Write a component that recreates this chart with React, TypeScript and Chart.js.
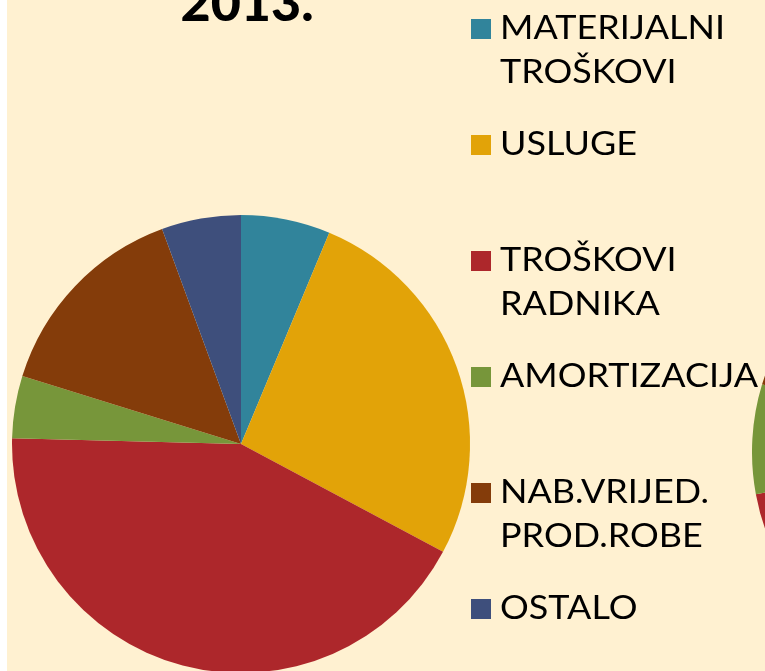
import React, { useEffect, useRef } from "react";
import { Chart, registerables } from "chart.js";

Chart.register(...registerables);

const TITLE = "2013.";
const categories = [
  "MATERIJALNI TROŠKOVI",
  "USLUGE",
  "TROŠKOVI RADNIKA",
  "AMORTIZACIJA",
  "NAB.VRIJED. PROD.ROBE",
  "OSTALO",
];
const legendLines = [
  ["MATERIJALNI", "TROŠKOVI"],
  ["USLUGE"],
  ["TROŠKOVI", "RADNIKA"],
  ["AMORTIZACIJA"],
  ["NAB.VRIJED.", "PROD.ROBE"],
  ["OSTALO"],
];
const values2013 = [6.3, 26.5, 42.6, 4.4, 14.6, 5.6];
const valuesNextYear = [6.0, 25.0, 41.1, 7.6, 14.0, 6.3];
const sliceColors = ["#31849B", "#E2A308", "#AD272B", "#77963A", "#843C0A", "#3E4F7C"];

const BG = "#FFF1D1";
const FONT = "Lato, 'Gill Sans', 'Open Sans', sans-serif";

const overlayPlugin = {
  id: "overlay",
  afterDraw(chart: any) {
    const ctx = chart.ctx;
    ctx.save();
    // title (cut at top)
    ctx.fillStyle = "#000";
    ctx.font = `900 52px ${FONT}`;
    ctx.textAlign = "center";
    ctx.textBaseline = "alphabetic";
    ctx.fillText(TITLE, 240, 21);
    // legend
    const labels = chart.data.labels as string[];
    const colors = chart.data.datasets[0].backgroundColor as string[];
    ctx.textAlign = "left";
    ctx.font = `33px ${FONT}`;
    labels.forEach((_, i) => {
      const top = 19 + i * 116;
      ctx.fillStyle = colors[i];
      ctx.fillRect(464, top, 20, 20);
      ctx.fillStyle = "#000";
      legendLines[i].forEach((line, j) => {
        ctx.save();
        ctx.translate(493, top + 20 + j * 44);
        ctx.scale(1.09, 1);
        ctx.fillText(line, 0, 0);
        ctx.restore();
      });
    });
    ctx.restore();
  },
};

export default function App() {
  const mainRef = useRef<HTMLCanvasElement>(null);
  const sideRef = useRef<HTMLCanvasElement>(null);

  useEffect(() => {
    const main = new Chart(mainRef.current!, {
      type: "pie",
      data: {
        labels: categories,
        datasets: [
          {
            data: values2013,
            backgroundColor: sliceColors,
            borderWidth: 0,
          },
        ],
      },
      options: {
        animation: false,
        responsive: false,
        maintainAspectRatio: false,
        layout: { padding: { left: 5, right: 295, top: 215, bottom: 7 } },
        plugins: { legend: { display: false }, tooltip: { enabled: false }, title: { display: false } },
      },
      plugins: [overlayPlugin],
    });
    const side = new Chart(sideRef.current!, {
      type: "pie",
      data: {
        labels: categories,
        datasets: [
          {
            data: valuesNextYear,
            backgroundColor: sliceColors,
            borderWidth: 0,
          },
        ],
      },
      options: {
        animation: false,
        responsive: false,
        maintainAspectRatio: false,
        layout: { padding: 0 },
        plugins: { legend: { display: false }, tooltip: { enabled: false } },
      },
    });
    return () => {
      main.destroy();
      side.destroy();
    };
  }, []);

  return (
    <div
      style={{
        position: "fixed",
        left: 7,
        top: 0,
        width: 758,
        height: 671,
        overflow: "hidden",
        background: BG,
      }}
    >
      <canvas
        ref={sideRef}
        width={466}
        height={466}
        style={{ position: "absolute", left: 745, top: 219, width: 466, height: 466 }}
      />
      <canvas
        ref={mainRef}
        width={758}
        height={680}
        style={{ position: "absolute", left: 0, top: 0, width: 758, height: 680 }}
      />
    </div>
  );
}
